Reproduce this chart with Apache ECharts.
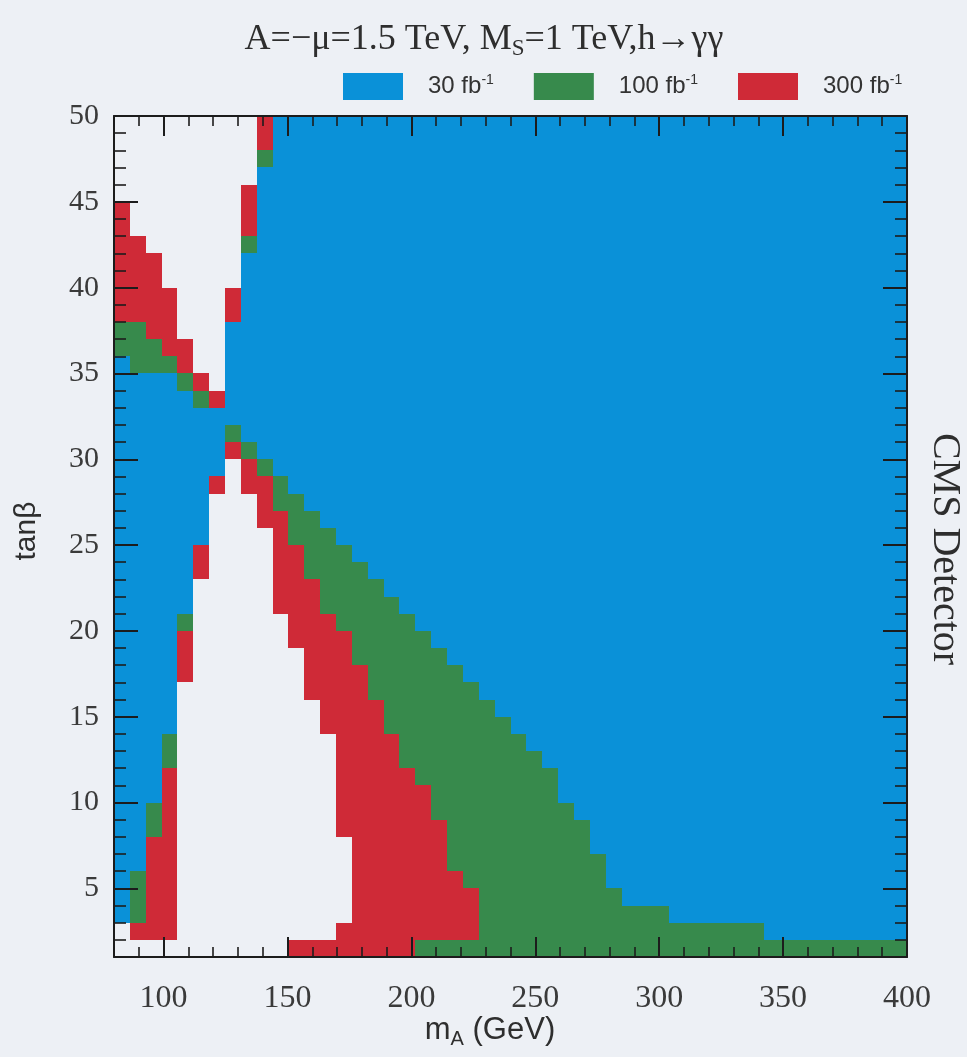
<!DOCTYPE html>
<html>
<head>
<meta charset="utf-8">
<script src="https://cdn.jsdelivr.net/npm/echarts@6/dist/echarts.min.js"></script>
<style>
html,body{margin:0;padding:0;background:#edf0f5;}
#chart{width:967px;height:1057px;}
</style>
</head>
<body>
<div id="chart"></div>
<script>
// ---------------- data ----------------
const MA_MIN = 80, MA_MAX = 400;
const TANB_MIN = 1, TANB_MAX = 50;

// left edges of the m_A scan columns (GeV), last value = right edge
const mAEdges = [80.0, 86.4, 92.8, 99.2, 105.6, 112.0, 118.4, 124.8, 131.2, 137.6,
  144.0, 150.4, 156.8, 163.2, 169.6, 176.0, 182.4, 188.8, 195.2, 201.6,
  208.0, 214.4, 220.8, 227.2, 233.6, 240.0, 246.4, 252.8, 259.2, 265.6,
  272.0, 278.4, 284.8, 291.2, 297.6, 304.0, 310.4, 316.8, 323.2, 329.6,
  336.0, 342.4, 348.8, 355.2, 361.6, 368.0, 374.4, 380.8, 387.2, 393.6, 400.0];

// per column: [tanβ where the run starts, reach code] from tanβ=1 upwards to 50
// n = not reached, b = 30 fb-1, g = 100 fb-1, r = 300 fb-1
const reachColumns = [
  [[1,'n'],[3,'b'],[36,'g'],[38,'r'],[45,'n']],
  [[1,'n'],[2,'r'],[3,'g'],[6,'b'],[35,'g'],[38,'r'],[43,'n']],
  [[1,'n'],[2,'r'],[8,'g'],[10,'b'],[35,'g'],[37,'r'],[42,'n']],
  [[1,'n'],[2,'r'],[12,'g'],[14,'b'],[35,'g'],[36,'r'],[40,'n']],
  [[1,'n'],[17,'r'],[20,'g'],[21,'b'],[34,'g'],[35,'r'],[37,'n']],
  [[1,'n'],[23,'r'],[25,'b'],[33,'g'],[34,'r'],[35,'n']],
  [[1,'n'],[28,'r'],[29,'b'],[33,'r'],[34,'n']],
  [[1,'n'],[30,'r'],[31,'g'],[32,'b'],[38,'r'],[40,'n']],
  [[1,'n'],[28,'r'],[30,'g'],[31,'b'],[42,'g'],[43,'r'],[46,'n']],
  [[1,'n'],[26,'r'],[29,'g'],[30,'b'],[47,'g'],[48,'r']],
  [[1,'n'],[21,'r'],[27,'g'],[29,'b']],
  [[1,'r'],[2,'n'],[19,'r'],[25,'g'],[28,'b']],
  [[1,'r'],[2,'n'],[16,'r'],[23,'g'],[27,'b']],
  [[1,'r'],[2,'n'],[14,'r'],[21,'g'],[26,'b']],
  [[1,'r'],[3,'n'],[8,'r'],[20,'g'],[25,'b']],
  [[1,'r'],[18,'g'],[24,'b']],
  [[1,'r'],[16,'g'],[23,'b']],
  [[1,'r'],[14,'g'],[22,'b']],
  [[1,'r'],[12,'g'],[21,'b']],
  [[1,'g'],[2,'r'],[11,'g'],[20,'b']],
  [[1,'g'],[2,'r'],[9,'g'],[19,'b']],
  [[1,'g'],[2,'r'],[6,'g'],[18,'b']],
  [[1,'g'],[2,'r'],[5,'g'],[17,'b']],
  [[1,'g'],[16,'b']],
  [[1,'g'],[15,'b']],
  [[1,'g'],[14,'b']],
  [[1,'g'],[13,'b']],
  [[1,'g'],[12,'b']],
  [[1,'g'],[10,'b']],
  [[1,'g'],[9,'b']],
  [[1,'g'],[7,'b']],
  [[1,'g'],[5,'b']],
  [[1,'g'],[4,'b']],
  [[1,'g'],[4,'b']],
  [[1,'g'],[4,'b']],
  [[1,'g'],[3,'b']],
  [[1,'g'],[3,'b']],
  [[1,'g'],[3,'b']],
  [[1,'g'],[3,'b']],
  [[1,'g'],[3,'b']],
  [[1,'g'],[3,'b']],
  [[1,'g'],[2,'b']],
  [[1,'g'],[2,'b']],
  [[1,'g'],[2,'b']],
  [[1,'g'],[2,'b']],
  [[1,'g'],[2,'b']],
  [[1,'g'],[2,'b']],
  [[1,'g'],[2,'b']],
  [[1,'g'],[2,'b']],
  [[1,'g'],[2,'b']]
];

const luminosities = [
  {code:'b', lumi:'30',  color:'#0a91d8'},
  {code:'g', lumi:'100', color:'#378a4c'},
  {code:'r', lumi:'300', color:'#cf2a37'}
];

const xMajorTicks = [100, 150, 200, 250, 300, 350, 400];
const yMajorTicks = [5, 10, 15, 20, 25, 30, 35, 40, 45, 50];

// ---------------- chart ----------------
function cellsFor(code) {
  const out = [];
  reachColumns.forEach((segs, i) => {
    segs.forEach((s, j) => {
      if (s[1] !== code) return;
      const y0 = s[0];
      const y1 = j + 1 < segs.length ? segs[j + 1][0] : TANB_MAX;
      out.push([mAEdges[i], mAEdges[i + 1], y0, y1]);
    });
  });
  return out;
}

function renderCell(params, api) {
  const a = api.coord([api.value(0), api.value(3)]);
  const b = api.coord([api.value(1), api.value(2)]);
  const x = Math.round(a[0]), y = Math.round(a[1]);
  return {
    type: 'rect',
    shape: {x: x, y: y, width: Math.round(b[0]) - x, height: Math.round(b[1]) - y},
    style: {fill: api.visual('color')}
  };
}

const AX = '#1c1c1c';
const serif = 'Liberation Serif';
const sans = 'Liberation Sans';

function xAx(pos, major, labels) {
  return {
    type: 'value', position: pos, min: MA_MIN, max: MA_MAX, z: 10,
    interval: major ? undefined : 10,
    splitLine: {show: false},
    axisLine: {show: !major, lineStyle: {color: AX, width: 2}},
    axisTick: major
      ? {show: true, inside: true, length: 20, customValues: xMajorTicks, lineStyle: {color: AX, width: 2}}
      : {show: true, inside: true, length: 10, lineStyle: {color: AX, width: 1.6}},
    axisLabel: labels
      ? {show: true, customValues: xMajorTicks, fontFamily: serif, fontSize: 32, color: '#3a3a3a', margin: 26}
      : {show: false}
  };
}
function yAx(pos, major, labels) {
  return {
    type: 'value', position: pos, min: TANB_MIN, max: TANB_MAX, z: 10,
    interval: major ? undefined : 1,
    splitLine: {show: false},
    axisLine: {show: !major, lineStyle: {color: AX, width: 2}},
    axisTick: major
      ? {show: true, inside: true, length: 24, customValues: yMajorTicks, lineStyle: {color: AX, width: 2}}
      : {show: true, inside: true, length: 12, lineStyle: {color: AX, width: 1.6}},
    axisLabel: labels
      ? {show: true, customValues: yMajorTicks, fontFamily: serif, fontSize: 30, color: '#3a3a3a', margin: 15}
      : {show: false}
  };
}

const chart = echarts.init(document.getElementById('chart'));
chart.setOption({
  backgroundColor: '#edf0f5',
  animation: false,
  grid: {left: 114, top: 116, right: 60, bottom: 100},
  legend: {
    left: 338, top: 68,
    itemWidth: 60, itemHeight: 27, itemGap: 40,
    icon: 'rect',
    data: luminosities.map(l => l.lumi + ' fb⁻¹'),
    formatter: name => '{n|' + name.split(' ')[0] + ' fb}{s|-1}',
    textStyle: {
      color: '#333', padding: [0, 0, 0, 20],
      rich: {
        n: {fontFamily: sans, fontSize: 24, color: '#333'},
        s: {fontFamily: sans, fontSize: 14, color: '#333', padding: [0, 0, 13, 0]}
      }
    }
  },
  xAxis: [xAx('bottom', false, false), xAx('bottom', true, true), xAx('top', false, false), xAx('top', true, false)],
  yAxis: [yAx('left', false, false), yAx('left', true, true), yAx('right', false, false), yAx('right', true, false)],
  series: luminosities.map(l => ({
    type: 'custom',
    name: l.lumi + ' fb⁻¹',
    xAxisIndex: 0, yAxisIndex: 0,
    itemStyle: {color: l.color},
    encode: {x: [0, 1], y: [2, 3]},
    renderItem: renderCell,
    data: cellsFor(l.code)
  })),
  graphic: [
    {
      type: 'text', x: 484, y: 40,
      style: {
        text: '{t|A=−μ=1.5 TeV, M}{s|S}{t|=1 TeV,h→γγ}',
        textAlign: 'center', textVerticalAlign: 'middle', align: 'center', verticalAlign: 'middle',
        fill: '#2e2e2e',
        rich: {
          t: {fontFamily: serif, fontSize: 36, fill: '#2e2e2e', color: '#2e2e2e'},
          s: {fontFamily: serif, fontSize: 23, fill: '#2e2e2e', color: '#2e2e2e', padding: [17, 0, 0, 0]}
        }
      }
    },
    {
      type: 'text', x: 27, y: 531, rotation: Math.PI / 2,
      style: {
        text: 'tanβ', font: '30px "Liberation Sans"', fill: '#2e2e2e',
        textAlign: 'center', textVerticalAlign: 'middle', align: 'center', verticalAlign: 'middle'
      }
    },
    {
      type: 'text', x: 490, y: 1030,
      style: {
        text: '{m|m}{s|A}{m| (GeV)}',
        textAlign: 'center', textVerticalAlign: 'middle', align: 'center', verticalAlign: 'middle',
        fill: '#2e2e2e',
        rich: {
          m: {fontFamily: sans, fontSize: 31, fill: '#2e2e2e', color: '#2e2e2e'},
          s: {fontFamily: sans, fontSize: 20, fill: '#2e2e2e', color: '#2e2e2e', padding: [18, 0, 0, 0]}
        }
      }
    },
    {
      type: 'text', x: 944, y: 549, rotation: -Math.PI / 2,
      style: {
        text: 'CMS Detector', font: '40px "Liberation Serif"', fill: '#2e2e2e',
        textAlign: 'center', textVerticalAlign: 'middle', align: 'center', verticalAlign: 'middle'
      }
    }
  ]
});
</script>
</body>
</html>
